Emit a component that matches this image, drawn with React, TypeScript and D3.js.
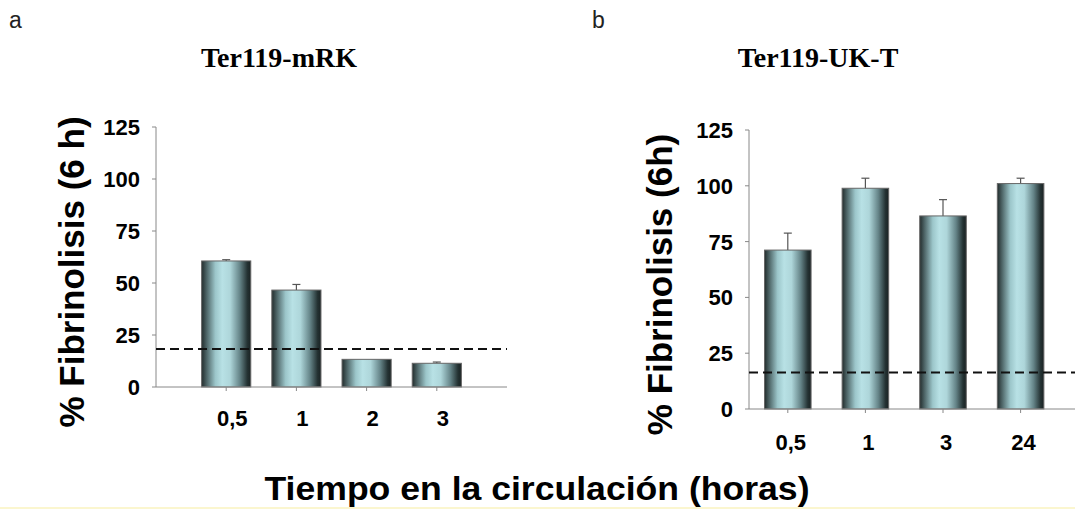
import React from 'react'
import * as d3 from 'd3'

// panel a
const catsA = ['0,5', '1', '2', '3']
const valsA = [60.6, 46.6, 13.3, 11.4]
const errA = [0.6, 2.7, 0, 0.6]
const cutA = 18.3

// panel b
const catsB = ['0,5', '1', '3', '24']
const valsB = [71.2, 98.9, 86.5, 101.0]
const errB = [7.6, 4.5, 7.3, 2.4]
const cutB = 16.4

const yTicks = [0, 25, 50, 75, 100, 125]

const SANS = '"Liberation Sans", Arial, sans-serif'
const SERIF = '"Liberation Serif", "Times New Roman", serif'

const Panel = ({cats, vals, errs, cut, x0, x1, axisEnd, xPad, yTop, yBottom, barFrac, yLabel, yLabelX, title, titleX, letter, letterX, xLabelY, xLabelDx}) => {
    const yScale = d3.scaleLinear().domain([0, 125]).range([yBottom, yTop])
    const xScale = d3.scalePoint().domain(cats).range([x0, x1]).padding(xPad)
    const bw = xScale.step() * barFrac

    return (
        <g>
            <text x={letterX} y={28} fontFamily={SANS} fontSize={23} fill="#222">{letter}</text>
            <text x={titleX} y={67} textAnchor="middle" fontFamily={SERIF} fontWeight="bold" fontSize={28}>{title}</text>

            {/* y axis */}
            <line x1={x0} x2={x0} y1={yTop} y2={yBottom} stroke="#888" />
            {yTicks.map(t => (
                <g key={t} transform={`translate(0,${yScale(t)})`}>
                    <line x1={x0 - 4} x2={x0} stroke="#888" />
                    <text x={x0 - 16} dy=".36em" textAnchor="end" fontFamily={SANS} fontWeight="bold" fontSize={22}>{t}</text>
                </g>
            ))}
            <text
                transform={`translate(${yLabelX},${(yTop + yBottom) / 2 + 15}) rotate(-90)`}
                textAnchor="middle" fontFamily={SANS} fontWeight="bold" fontSize={35}
            >{yLabel}</text>

            {/* bars */}
            {cats.map((c, i) => {
                const cx = xScale(c)
                const top = yScale(vals[i])
                const et = yScale(vals[i] + errs[i])
                return (
                    <g key={c}>
                        {errs[i] > 0 && <g stroke="#555" strokeWidth={1.2}>
                            <line x1={cx} x2={cx} y1={top} y2={et} />
                            <line x1={cx - 4} x2={cx + 4} y1={et} y2={et} />
                        </g>}
                        <rect x={cx - bw / 2} y={top} width={bw} height={yBottom - top}
                            fill="url(#barGrad)" stroke="#666" strokeWidth={1} />
                    </g>
                )
            })}

            {/* x axis */}
            <line x1={x0} x2={axisEnd} y1={yBottom} y2={yBottom} stroke="#888" />
            {cats.map(c => (
                <g key={c} transform={`translate(${xScale(c)},0)`}>
                    <line y1={yBottom} y2={yBottom + 4} stroke="#888" />
                    <text x={xLabelDx} y={xLabelY} textAnchor="middle" fontFamily={SANS} fontWeight="bold" fontSize={22}>{c}</text>
                </g>
            ))}

            {/* threshold */}
            <line x1={x0} x2={axisEnd} y1={yScale(cut)} y2={yScale(cut)} stroke="#111" strokeWidth={2} strokeDasharray="9,5" />
        </g>
    )
}

export default function App() {
    return (
        <svg width={1075} height={510} style={{position: 'absolute', left: 0, top: 0, background: '#fff'}}>
            <defs>
                <linearGradient id="barGrad" x1="0" x2="1" y1="0" y2="0">
                    <stop offset="0%" stopColor="#222c2c" />
                    <stop offset="10%" stopColor="#4d6466" />
                    <stop offset="28%" stopColor="#9cc6ca" />
                    <stop offset="42%" stopColor="#b8e1e5" />
                    <stop offset="58%" stopColor="#aed6da" />
                    <stop offset="78%" stopColor="#648387" />
                    <stop offset="93%" stopColor="#243233" />
                    <stop offset="100%" stopColor="#1a2223" />
                </linearGradient>
            </defs>
            <rect width={1075} height={510} fill="#fff" />
            <Panel cats={catsA} vals={valsA} errs={errA} cut={cutA}
                x0={156} x1={507} axisEnd={507} xPad={1} yTop={127} yBottom={387} barFrac={0.7}
                yLabel="% Fibrinolisis (6 h)" yLabelX={84}
                title="Ter119-mRK" titleX={279} letter="a" letterX={9} xLabelY={426} xLabelDx={6} />
            <Panel cats={catsB} vals={valsB} errs={errB} cut={cutB}
                x0={749} x1={1059.4} axisEnd={1075} xPad={0.5} yTop={130} yBottom={409} barFrac={0.6}
                yLabel="% Fibrinolisis (6h)" yLabelX={672}
                title="Ter119-UK-T" titleX={818} letter="b" letterX={592} xLabelY={450} xLabelDx={3} />
            <text x={537} y={500} textAnchor="middle" fontFamily={SANS} fontWeight="bold" fontSize={33}
                textLength={545} lengthAdjust="spacingAndGlyphs">Tiempo en la circulación (horas)</text>
            <rect x={0} y={507} width={1075} height={2} fill="#fbf6cf" />
        </svg>
    )
}
